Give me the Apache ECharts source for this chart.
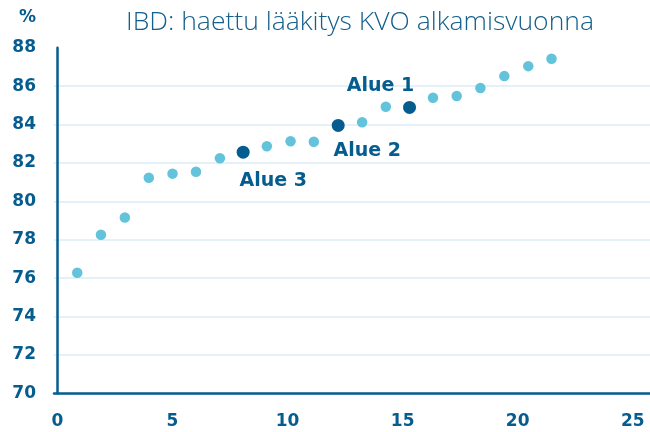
<!DOCTYPE html>
<html>
<head>
<meta charset="utf-8">
<script src="https://cdn.jsdelivr.net/npm/echarts@6/dist/echarts.min.js"></script>
<style>
  html, body { margin: 0; padding: 0; background: #fff; }
  #main { width: 650px; height: 432px; }
</style>
</head>
<body>
<div id="main"></div>
<script>
// muut alueet (vaaleat pisteet)
var otherX = [0.86, 1.89, 2.93, 3.97, 5.0, 6.02, 7.06, 9.1, 10.13, 11.14, 13.24, 14.27, 16.32, 17.35, 18.38, 19.42, 20.46, 21.47];
var otherY = [76.28, 78.26, 79.16, 81.23, 81.44, 81.54, 82.24, 82.87, 83.13, 83.1, 84.12, 84.92, 85.39, 85.48, 85.9, 86.52, 87.04, 87.42];

// korostetut alueet
var areaNames = ['Alue 3', 'Alue 2', 'Alue 1'];
var areaX = [8.07, 12.2, 15.3];
var areaY = [82.56, 83.95, 84.89];

var xTicks = [0, 5, 10, 15, 20, 25];
var yTicks = [70, 72, 74, 76, 78, 80, 82, 84, 86, 88];

var darkBlue = '#055c8f';
var lightBlue = '#63c3da';

function Set_Scatter_echarts() {
    var container = document.getElementById('main');
    var myChart = echarts.init(container, null, { renderer: 'canvas' });

    var otherData = otherX.map(function (x, i) { return [x, otherY[i]]; });
    var labelOffsets = [[30, 29], [29, 26], [-29, -21]];
    var areaData = areaX.map(function (x, i) {
        return {
            name: areaNames[i],
            value: [x, areaY[i]],
            label: { offset: labelOffsets[i] }
        };
    });

    var option = {
    animation: false,
    title: {
        text: 'IBD: haettu lääkitys KVO alkamisvuonna',
        left: 355,
        top: 4,
        textAlign: 'center',
        textStyle: {
            fontFamily: 'Open Sans',
            fontWeight: 300,
            fontSize: 26.5,
            color: '#14608c'
        }
    },
    graphic: [{
        type: 'text',
        left: 19,
        top: 9,
        style: {
            text: '%',
            font: 'bold 17px "DejaVu Sans"',
            fill: darkBlue
        }
    }],
    grid: {
        left: 54,
        right: 0,
        top: 47.7,
        bottom: 38.7
    },
    xAxis: {
        type: 'value',
        min: -0.15,
        max: 25.75,
        axisLine: { show: true, onZero: false, lineStyle: { color: darkBlue, width: 2.5 } },
        axisTick: { show: false },
        splitLine: { show: false },
        axisLabel: {
            customValues: xTicks,
            margin: 20,
            fontFamily: 'DejaVu Sans',
            fontWeight: 'bold',
            fontSize: 17,
            color: darkBlue
        }
    },
    yAxis: {
        type: 'value',
        min: yTicks[0],
        max: yTicks[yTicks.length - 1],
        interval: 2,
        axisLine: { show: true, lineStyle: { color: darkBlue, width: 2.5 } },
        axisTick: { show: false },
        splitLine: {
            show: true,
            lineStyle: {
                color: yTicks.map(function (t, i) { return i === yTicks.length - 1 ? 'rgba(0,0,0,0)' : '#dcedf6'; }),
                width: 1.5
            }
        },
        axisLabel: {
            margin: 18,
            padding: [0, 0, 5, 0],
            fontFamily: 'DejaVu Sans',
            fontWeight: 'bold',
            fontSize: 17,
            color: darkBlue
        }
    },
    series: [
    {
        name: 'Muut',
        type: 'scatter',
        symbolSize: 10.5,
        itemStyle: { color: lightBlue, opacity: 1 },
        data: otherData
    },
    {
        name: 'Alueet',
        type: 'scatter',
        symbolSize: 13,
        itemStyle: { color: darkBlue, opacity: 1 },
        label: {
            show: true,
            position: 'inside',
            formatter: '{b}',
            fontFamily: 'DejaVu Sans',
            fontWeight: 'bold',
            fontSize: 19,
            color: darkBlue
        },
        data: areaData
    }
    ]
    };

    myChart.setOption(option);
    window.addEventListener('resize', myChart.resize);
}
Set_Scatter_echarts();
</script>
</body>
</html>
